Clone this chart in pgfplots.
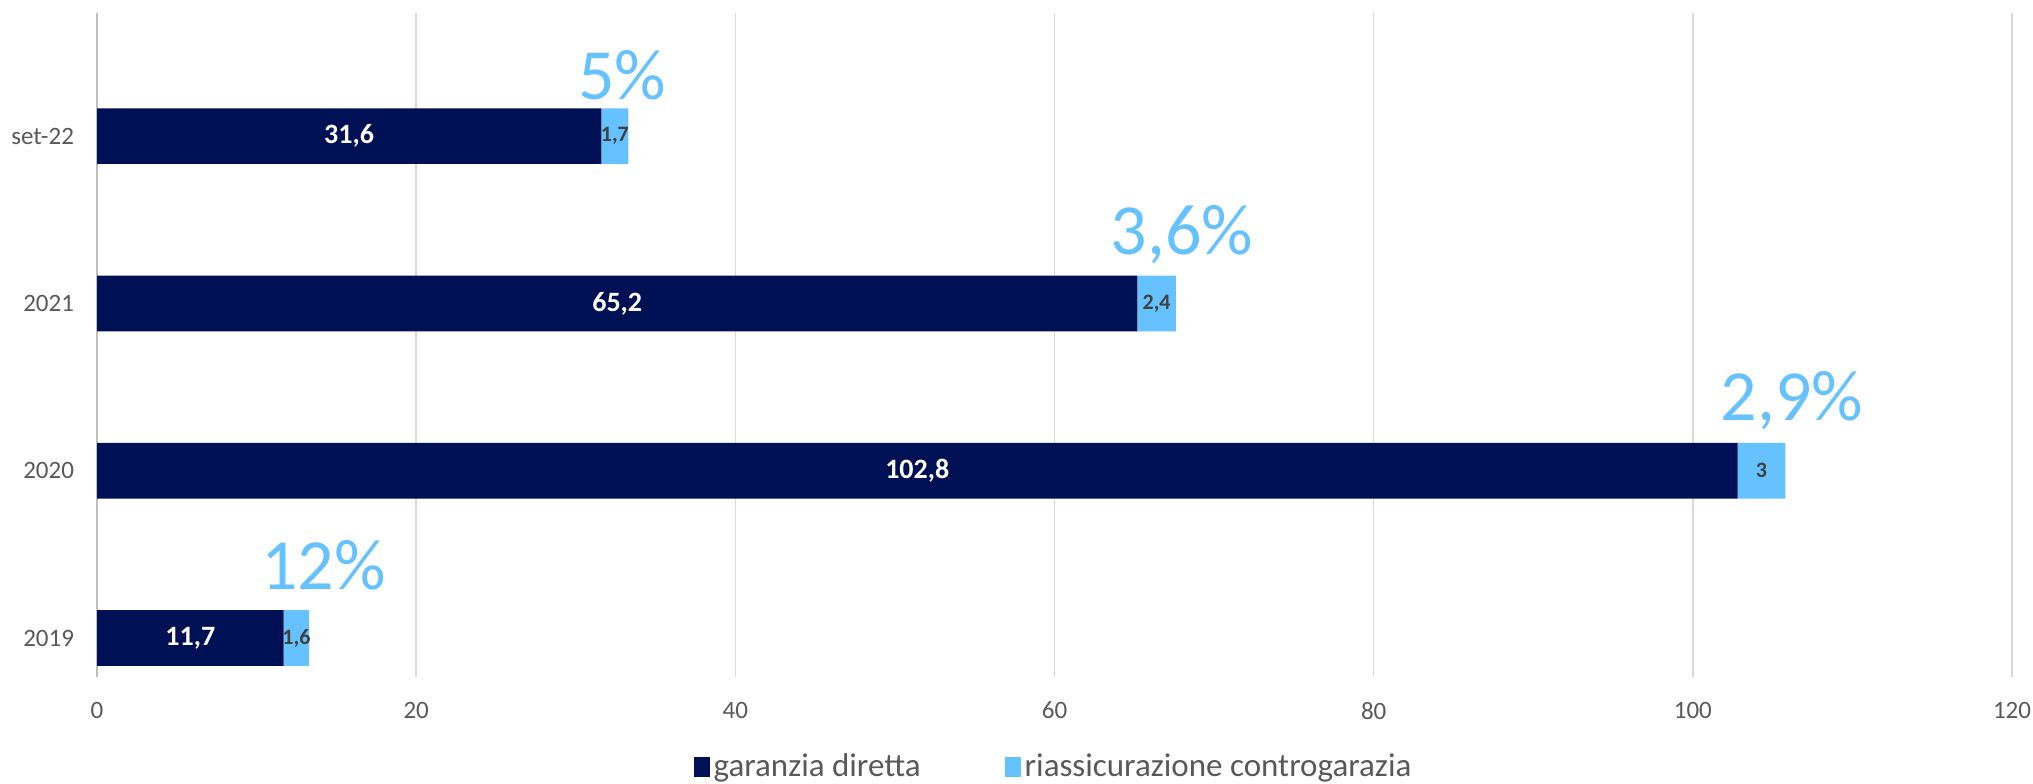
\documentclass[border=0pt]{standalone}
\usepackage{fontspec}
\setmainfont{Carlito}
\usepackage{pgfplots}
\pgfplotsset{compat=1.18}
\definecolor{navy}{RGB}{0,16,84}
\definecolor{sky}{RGB}{102,194,255}
\definecolor{gridgray}{RGB}{217,217,217}
\definecolor{axisgray}{RGB}{191,191,191}
\definecolor{txtgray}{RGB}{89,89,89}
\definecolor{lblgray}{RGB}{64,64,64}
\tikzset{
  biglbl/.style={font=\bfseries\fontsize{14}{16}\selectfont, text=white},
  smalllbl/.style={font=\bfseries\fontsize{11}{13}\selectfont, text=lblgray, inner sep=0pt},
  pctlbl/.style={font=\fontsize{36}{40}\selectfont, text=sky, anchor=base, inner sep=0pt},
}
\begin{document}
\begin{tikzpicture}
\useasboundingbox (-48.5pt,-53pt) rectangle (968pt,338.5pt);
\begin{axis}[
  scale only axis,
  width=957.5pt, height=332pt,
  xbar stacked, bar width=0.333,
  xmin=0, xmax=120, ymin=-0.233, ymax=3.736,
  xtick={0,20,...,120},
  ytick={0,1,2,3}, yticklabels={2019,2020,2021,set-22},
  xmajorgrids, grid style={gridgray, line width=0.8pt},
  axis lines*=left,
  x axis line style={draw=none},
  y axis line style={draw=axisgray, line width=0.8pt},
  major tick length=0pt,
  tick label style={font=\fontsize{12.5}{14}\selectfont, text=txtgray},
  /pgf/number format/assume math mode=true,
  xticklabel style={yshift=-9pt},
  yticklabel style={xshift=-8pt},
  legend style={at={(0.5,0)}, anchor=center, yshift=-45pt, draw=none, fill=none,
    legend columns=2, font=\fontsize{16.5}{18}\selectfont, text=txtgray,
    /tikz/every even column/.append style={column sep=40pt}},
  legend cell align=left,
  legend image code/.code={\fill[#1] (0pt,-5pt) rectangle (8pt,5pt);},
  after end axis/.append code={
    % segment labels
    \node[biglbl] at (axis cs:5.85,0) {11,7};
    \node[biglbl] at (axis cs:51.4,1) {102,8};
    \node[biglbl] at (axis cs:32.6,2) {65,2};
    \node[biglbl] at (axis cs:15.8,3) {31,6};
    \node[smalllbl] at (axis cs:12.5,0) {1,6};
    \node[smalllbl] at (axis cs:104.3,1) {3};
    \node[smalllbl] at (axis cs:66.4,2) {2,4};
    \node[smalllbl] at (axis cs:32.45,3) {1,7};
    % share labels
    \node[pctlbl] at (axis cs:14.2,0.29) {12\%};
    \node[pctlbl] at (axis cs:106.2,1.30) {2,9\%};
    \node[pctlbl] at (axis cs:68.0,2.29) {3,6\%};
    \node[pctlbl] at (axis cs:32.9,3.22) {5\%};
  },
]
\addplot[fill=navy, draw=none] coordinates {(11.7,0) (102.8,1) (65.2,2) (31.6,3)};
\addplot[fill=sky, draw=none] coordinates {(1.6,0) (3,1) (2.4,2) (1.7,3)};
\legend{garanzia diretta, riassicurazione controgarazia}
\end{axis}
\end{tikzpicture}
\end{document}
